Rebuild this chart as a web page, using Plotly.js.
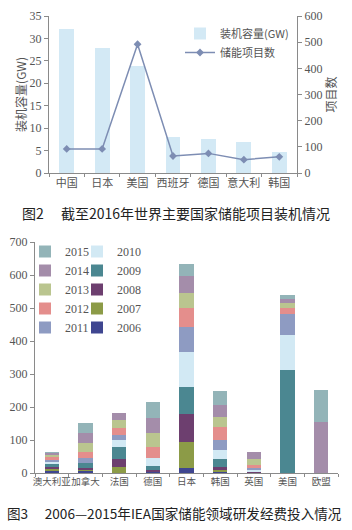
<!DOCTYPE html>
<html>
<head>
<meta charset="utf-8">
<script src="https://cdn.plot.ly/plotly-3.0.1.min.js"></script>
<style>html,body{margin:0;padding:0;background:#fff;}#chart{width:352px;height:530px;}</style>
</head>
<body>
<div id="chart"></div>
<script>
// ---- Figure 2 data ----
var countries1 = ['中国','日本','美国','西班牙','德国','意大利','韩国'];
var capacityGW = [32.0, 27.9, 23.8, 8.0, 7.5, 7.0, 4.7];
var projectCount = [92, 92, 492, 65, 75, 51, 62];

// ---- Figure 3 data (stacked by year) ----
var countries2 = ['澳大利亚','加拿大','法国','德国','日本','韩国','英国','美国','欧盟'];
var years = ['2006','2007','2008','2009','2010','2011','2012','2013','2014','2015'];
var y2006 = [6, 6, 0, 2, 16, 3, 0, 0, 0];
var y2007 = [5, 4, 17, 2, 77, 6, 0, 0, 0];
var y2008 = [6, 4, 24, 4, 85, 10, 2, 0, 0];
var y2009 = [9, 15, 37, 14, 84, 23, 2, 312, 0];
var y2010 = [8, 2, 22, 23, 106, 28, 5, 106, 0];
var y2011 = [5, 14, 15, 0, 73, 30, 5, 63, 0];
var y2012 = [8, 20, 20, 35, 58, 40, 10, 19, 0];
var y2013 = [8, 25, 26, 40, 47, 31, 17, 15, 0];
var y2014 = [5, 30, 22, 46, 51, 35, 24, 12, 155];
var y2015 = [5, 31, 0, 48, 35, 43, 0, 12, 97];
var yearValues = [y2006, y2007, y2008, y2009, y2010, y2011, y2012, y2013, y2014, y2015];
var yearColors = ['#3f4690','#8c9b47','#6d3f6f','#4b8791','#d2e9f4','#8e9bc2','#e48e8c','#bac58f','#a48daa','#93b4b8'];

var serif = "'Liberation Serif', 'Noto Sans CJK SC', serif";
var cjk = "'Noto Sans CJK SC', 'Liberation Serif', sans-serif";
var grey = '#555';
var axisCol = '#8a8a8a';

var traces = [];
traces.push({
  type: 'bar', x: countries1, y: capacityGW, name: '装机容量(GW)',
  xaxis: 'x', yaxis: 'y', marker: {color: '#d3e9f5'}, legend: 'legend'
});
traces.push({
  type: 'scatter', mode: 'lines+markers', x: countries1, y: projectCount, name: '储能项目数',
  xaxis: 'x', yaxis: 'y2', line: {color: '#7d8db3', width: 1.5},
  marker: {symbol: 'diamond', size: 6, color: '#7d8db3'}, legend: 'legend'
});
for (var i = 0; i < years.length; i++) {
  traces.push({
    type: 'bar', x: countries2, y: yearValues[i], name: years[i],
    xaxis: 'x2', yaxis: 'y3', marker: {color: yearColors[i]},
    legend: i >= 5 ? 'legend3' : 'legend2',
    legendrank: 100 - i
  });
}

var W = 352, H = 530;
function px(x){ return x / W; }
function py(y){ return 1 - y / H; }

var layout = {
  width: W, height: H,
  margin: {l: 0, r: 0, t: 0, b: 0},
  paper_bgcolor: '#fff', plot_bgcolor: '#fff',
  barmode: 'stack', bargap: 0.58,
  showlegend: true,
  font: {family: serif, color: grey},
  xaxis: {
    domain: [px(49), px(297)], anchor: 'y',
    showline: true, linecolor: axisCol, linewidth: 1,
    ticks: 'outside', tickson: 'boundaries', ticklen: 3, tickcolor: axisCol,
    tickangle: 0, automargin: false,
    tickfont: {family: cjk, size: 11, color: grey}
  },
  yaxis: {
    domain: [py(173), py(16)], anchor: 'x', range: [0, 35], dtick: 5,
    showline: true, linecolor: axisCol, ticks: 'outside', ticklen: 4, tickcolor: axisCol,
    showgrid: false, zeroline: false, automargin: false,
    tickfont: {family: serif, size: 12, color: grey},
    title: {text: '装机容量(GW)', font: {family: cjk, size: 12, color: grey}, standoff: 0}
  },
  yaxis2: {
    overlaying: 'y', side: 'right', anchor: 'x', range: [0, 600], dtick: 100,
    showline: true, linecolor: axisCol, ticks: 'outside', ticklen: 4, tickcolor: axisCol,
    showgrid: false, zeroline: false, automargin: false,
    tickfont: {family: serif, size: 12, color: grey},
    title: {text: '项目数', font: {family: cjk, size: 12, color: grey}, standoff: 0}
  },
  xaxis2: {
    domain: [px(35), px(338)], anchor: 'y3',
    showline: true, linecolor: axisCol, linewidth: 1,
    ticks: 'outside', tickson: 'boundaries', ticklen: 3, tickcolor: axisCol,
    tickangle: 0, automargin: false,
    tickfont: {family: cjk, size: 9.5, color: grey}
  },
  yaxis3: {
    domain: [py(473), py(242)], anchor: 'x2', range: [0, 700], dtick: 100,
    showline: true, linecolor: axisCol, ticks: 'outside', ticklen: 4, tickcolor: axisCol,
    showgrid: false, zeroline: false, automargin: false,
    tickfont: {family: serif, size: 12, color: grey}
  },
  legend: {
    x: px(180), y: py(19), xanchor: 'left', yanchor: 'top',
    bgcolor: 'rgba(0,0,0,0)', traceorder: 'normal',
    font: {family: cjk, size: 11, color: grey}
  },
  legend3: {
    x: px(25), y: py(237), xanchor: 'left', yanchor: 'top',
    bgcolor: 'rgba(0,0,0,0)', traceorder: 'normal',
    font: {family: serif, size: 12, color: grey}
  },
  legend2: {
    x: px(77), y: py(237), xanchor: 'left', yanchor: 'top',
    bgcolor: 'rgba(0,0,0,0)', traceorder: 'normal',
    font: {family: serif, size: 12, color: grey}
  },
  annotations: [
    {text: '图2\u3000 截至2016年世界主要国家储能项目装机情况', xref: 'paper', yref: 'paper',
     x: px(176), y: py(213), xanchor: 'center', yanchor: 'middle', showarrow: false,
     font: {family: cjk, size: 14, color: '#222'}},
    {text: '图3\u3000 2006—2015年IEA国家储能领域研发经费投入情况', xref: 'paper', yref: 'paper',
     x: px(174), y: py(513), xanchor: 'center', yanchor: 'middle', showarrow: false,
     font: {family: cjk, size: 13.6, color: '#222'}}
  ]
};

Plotly.newPlot('chart', traces, layout, {staticPlot: true, displayModeBar: false});
</script>
</body>
</html>
